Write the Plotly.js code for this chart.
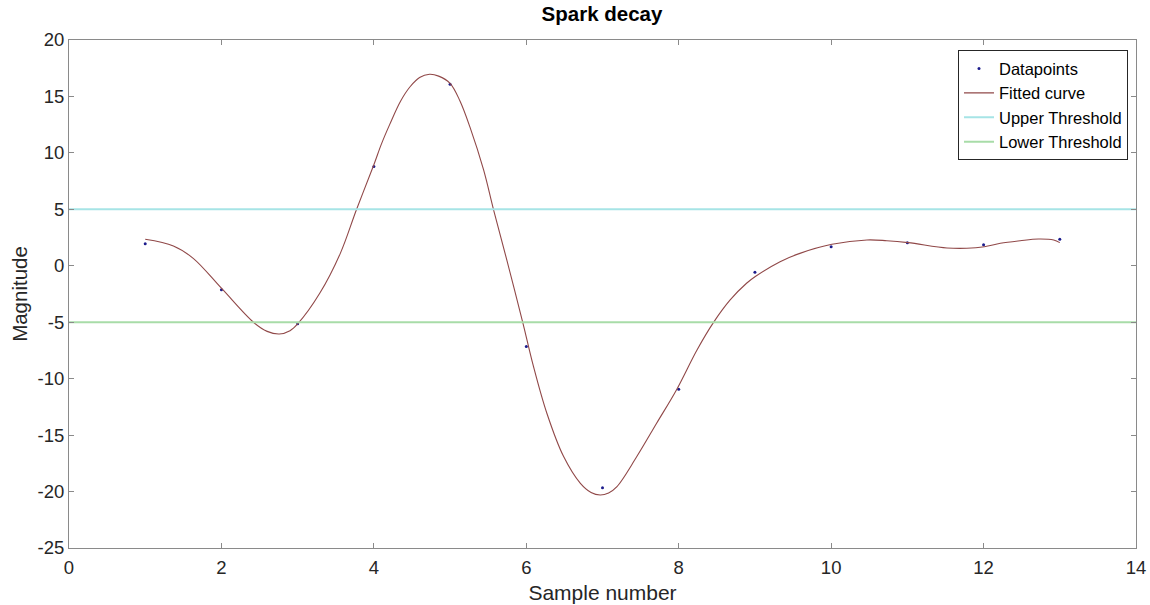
<!DOCTYPE html>
<html>
<head>
<meta charset="utf-8">
<script src="https://cdn.plot.ly/plotly-3.0.1.min.js"></script>
<style>
  html, body { margin: 0; padding: 0; background: #fff; }
  #chart { width: 1150px; height: 605px; }
</style>
</head>
<body>
<div id="chart"></div>
<script>
// Sampled measurements
const sampleX = [1, 2, 3, 4, 5, 6, 7, 8, 9, 10, 11, 12, 13];
const sampleY = [1.95, -2.13, -5.14, 8.8, 16.08, -7.15, -19.66, -10.93, -0.57, 1.68, 2.04, 1.86, 2.36];

// Fitted curve, traced at irregular sample positions
const fitX = [1.0, 1.37, 1.63, 2.0, 2.42, 2.6, 2.76, 2.9, 3.0, 3.29, 3.56, 3.77, 4.0, 4.1, 4.21, 4.35,
              4.475, 4.6, 4.73, 4.85, 5.0, 5.13, 5.26, 5.44, 5.57, 5.745, 5.955, 6.09, 6.27, 6.49,
              6.71, 6.85, 6.97, 7.08, 7.19, 7.45, 7.71, 7.97, 8.24, 8.455, 8.675, 8.89, 9.01, 9.33,
              9.59, 10.01, 10.47, 10.73, 11.01, 11.52, 11.78, 12.01, 12.22, 12.48, 12.72, 12.92, 13.0];
const fitY = [2.35, 1.76, 0.66, -1.99, -5.0, -5.81, -6.04, -5.75, -5.15, -2.44, 1.1, 4.94, 8.95, 10.8,
              12.55, 14.58, 15.86, 16.68, 16.96, 16.8, 16.16, 14.6, 12.3, 8.49, 4.97, 0.5, -5.05, -8.8,
              -13.06, -16.9, -19.27, -20.08, -20.3, -20.12, -19.56, -16.9, -13.95, -11.0, -7.46, -5.04,
              -3.03, -1.55, -0.93, 0.36, 1.1, 1.9, 2.29, 2.22, 2.05, 1.58, 1.55, 1.69, 1.99, 2.22,
              2.37, 2.28, 2.05];

// Threshold levels spanning the full x range
const thresholdX = [0, 14];
const upperThreshold = 5;
const lowerThreshold = -5;

const xTicks = [0, 2, 4, 6, 8, 10, 12, 14];
const yTicks = [-25, -20, -15, -10, -5, 0, 5, 10, 15, 20];

const FONT = "Liberation Sans, Arial, sans-serif";

const traces = [
  {
    name: "Datapoints", x: sampleX, y: sampleY, type: "scatter", mode: "markers",
    marker: { color: "#1c1c8c", size: 3, symbol: "circle" }
  },
  {
    name: "Fitted curve", x: fitX, y: fitY, type: "scatter", mode: "lines",
    line: { color: "#904848", width: 1.1, shape: "spline", smoothing: 1 }
  },
  {
    name: "Upper Threshold", x: thresholdX, y: thresholdX.map(() => upperThreshold),
    type: "scatter", mode: "lines", line: { color: "#a6e4e6", width: 2 }
  },
  {
    name: "Lower Threshold", x: thresholdX, y: thresholdX.map(() => lowerThreshold),
    type: "scatter", mode: "lines", line: { color: "#a8dca8", width: 2 }
  }
];

const axisCommon = {
  showgrid: false, zeroline: false, showline: true, mirror: "ticks",
  linecolor: "#8a8a8a", linewidth: 1, ticks: "inside", ticklen: 5,
  tickcolor: "#8a8a8a", tickwidth: 1,
  tickfont: { family: FONT, size: 18.5, color: "#262626" }
};

const layout = {
  width: 1150, height: 605,
  margin: { l: 69, r: 14, t: 40, b: 57 },
  paper_bgcolor: "#ffffff", plot_bgcolor: "#ffffff",
  font: { family: FONT, color: "#262626" },
  title: {
    text: "<b>Spark decay</b>",
    font: { family: FONT, size: 20.5, color: "#000000" },
    x: 0.5235, xref: "container", xanchor: "center",
    y: 0.977, yref: "container", yanchor: "middle"
  },
  xaxis: Object.assign({}, axisCommon, {
    range: [0, 14], tickvals: xTicks, ticktext: xTicks.map(String), ticklabelstandoff: 3,
    title: { text: "Sample number", font: { family: FONT, size: 21, color: "#262626" }, standoff: 8 }
  }),
  yaxis: Object.assign({}, axisCommon, {
    range: [-25, 20], tickvals: yTicks, ticktext: yTicks.map(String),
    title: { text: "Magnitude", font: { family: FONT, size: 20.5, color: "#262626" }, standoff: 4 }
  }),
  showlegend: true,
  legend: {
    x: 0.9925, xanchor: "right", y: 0.98, yanchor: "top",
    bgcolor: "#ffffff", bordercolor: "#262626", borderwidth: 1,
    font: { family: FONT, size: 16.5, color: "#000000" },
    tracegroupgap: 0, itemwidth: 30
  }
};

Plotly.newPlot("chart", traces, layout, { displayModeBar: false, staticPlot: true });
</script>
</body>
</html>
